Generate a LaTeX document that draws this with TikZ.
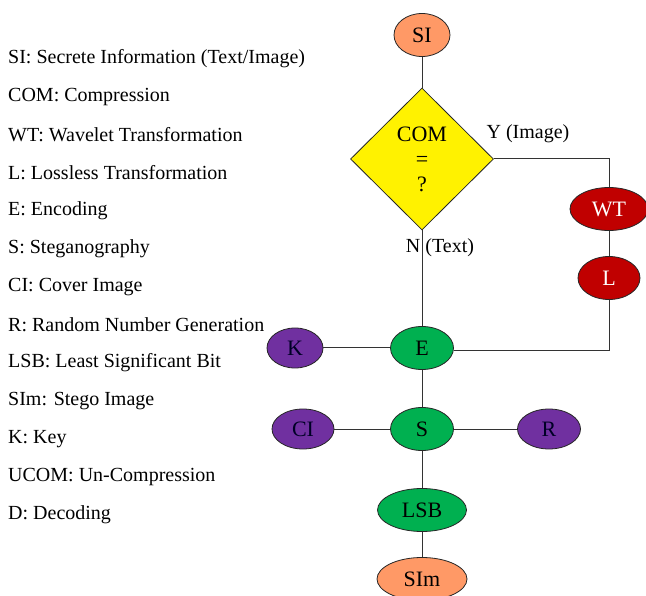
\documentclass[tikz,border=0pt]{standalone}
\usepackage{fontspec}
\setmainfont{Liberation Serif}
\usetikzlibrary{shapes.geometric}
\definecolor{salmon}{RGB}{255,153,102}
\definecolor{darkred}{RGB}{192,0,0}
\definecolor{leafgreen}{RGB}{0,176,80}
\definecolor{violet}{RGB}{112,48,160}
\tikzset{
    blob/.style={ellipse, draw=black!85, line width=0.8pt, inner sep=0pt,
                 minimum width=#1, minimum height=43, font=\fontsize{22}{25}\selectfont},
    blob/.default=63,
    ends/.style={blob=#1, fill=salmon},
    ends/.default=56,
    trans/.style={blob=#1, fill=darkred, text=white},
    trans/.default=76,
    proc/.style={blob=#1, fill=leafgreen, text=black},
    proc/.default=63,
    extra/.style={blob=#1, fill=violet, text=black!85!blue, minimum height=40},
    extra/.default=60,
    wire/.style={draw=black!80, line width=1pt},
    legend/.style={anchor=west, inner sep=0pt, font=\fontsize{20}{23}\selectfont},
  }
\begin{document}
\begin{tikzpicture}[x=1pt, y=-1pt]
  \useasboundingbox (0,0) rectangle (646,596);
  %legend
  \foreach \txt [count=\i] in {SI: Secrete Information (Text/Image), COM: Compression,
      WT: Wavelet Transformation, L: Lossless Transformation, E: Encoding,
      S: Steganography, CI: Cover Image, R: Random Number Generation,
      LSB: Least Significant Bit, SIm: Stego Image, K: Key,
      UCOM: Un-Compression, D: Decoding}
    \node[legend] (leg\i) at (8, {59+38.0*(\i-1)}) {\txt};

  %flow
  \node[ends] (SI) at (422,35) {SI};
  \node[diamond, draw=black!85, line width=0.8pt, fill=yellow, inner sep=0pt,
        minimum width=143, minimum height=142, align=center,
        font=\fontsize{22}{25}\selectfont] (COM) at (422,159) {COM\\=\\?};
  \node[trans=78] (WT) at (609,209) {WT};
  \node[trans=62] (L) at (609,278) {L};
  \node[proc] (E) at (422,348) {E};
  \node[extra=56] (K) at (295,348) {K};
  \node[proc] (S) at (422,429) {S};
  \node[extra=62] (CI) at (303,429) {CI};
  \node[extra=63] (R) at (549,429) {R};
  \node[proc=89] (LSB) at (422,510) {LSB};
  \node[ends=90] (SIm) at (422,579) {SIm};

  \node[legend, anchor=center] (yes) at (528,134) {Y (Image)};
  \node[legend, anchor=center] (no) at (440,248) {N (Text)};

  \draw[wire] (SI) -- (COM);
  \draw[wire] (COM.east) -| (WT.north);
  \draw[wire] (WT) -- (L);
  \draw[wire] (L.south) |- ([yshift=-3]E.east);
  \draw[wire] (COM.south) -- (E.north);
  \draw[wire] (K) -- (E);
  \draw[wire] (E) -- (S);
  \draw[wire] (CI) -- (S);
  \draw[wire] (S) -- (R);
  \draw[wire] (S) -- (LSB);
  \draw[wire] (LSB) -- (SIm);
\end{tikzpicture}
\end{document}
